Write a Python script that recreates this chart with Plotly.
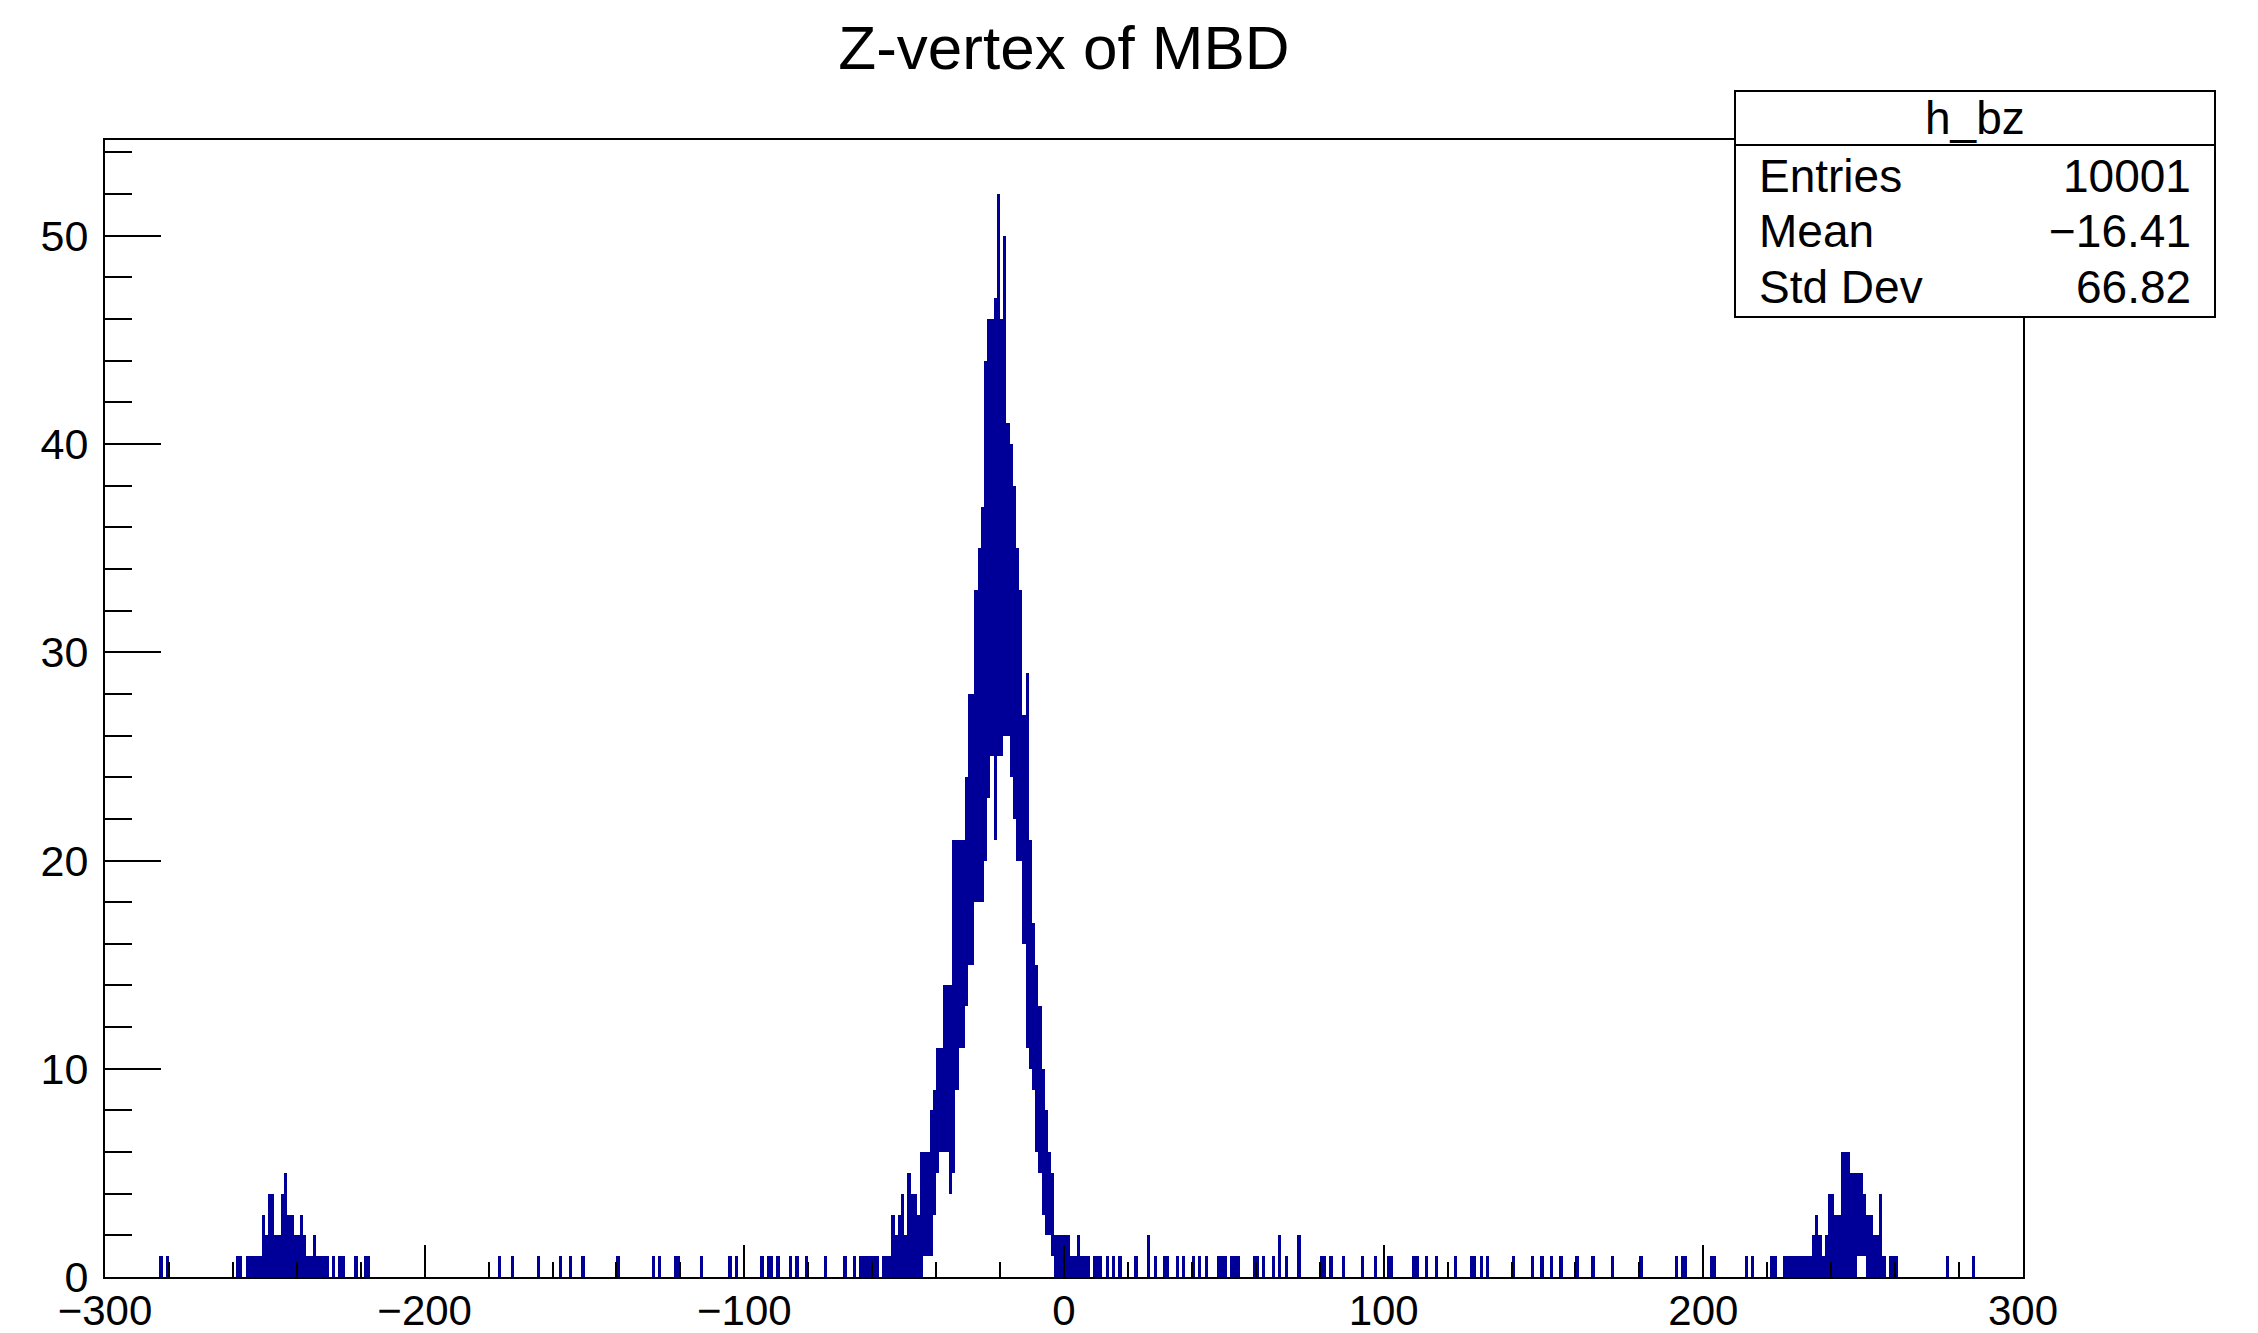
import plotly.graph_objects as go

# counts; bins are 1 unit wide, bin k covers [k, k+1)
# dense parts are stored as (min, max) per bin, like ROOT paints them when bins are finer than pixels
CORE_START = -67
core_hi = [0, 1, 0, 1, 1, 1, 1, 1, 1, 0, 1, 1, 1, 3, 2, 3, 4, 2, 5, 4,
           4, 3, 6, 6, 6, 8, 9, 11, 11, 14, 14, 14, 21, 21, 21, 21, 24, 28, 28, 33,
           35, 37, 44, 46, 46, 47, 52, 46, 50, 41, 40, 38, 35, 33, 27, 29, 21, 17, 15, 13,
           10, 8, 6, 5, 2, 2, 2, 2, 2, 1, 1, 2, 1, 1, 1, 0, 1, 1, 1]
core_lo = [0, 0, 0, 0, 0, 0, 0, 0, 0, 0, 0, 0, 0, 0, 0, 0, 0, 0, 0, 0,
           0, 0, 0, 1, 1, 1, 3, 5, 6, 6, 6, 4, 5, 9, 11, 11, 13, 15, 15, 18,
           18, 18, 20, 23, 25, 21, 25, 25, 26, 26, 24, 22, 20, 20, 16, 11, 10, 9, 6, 5,
           3, 2, 2, 1, 0, 0, 0, 0, 0, 0, 0, 0, 0, 0, 0, 0, 0, 0, 0]

LEFT_START = -259
left_hi = [1, 1, 0, 1, 1, 1, 1, 1, 3, 2, 4, 4, 2, 2, 4, 5, 3, 3, 2, 2,
           3, 2, 1, 1, 2, 1, 1, 1, 1, 0, 1, 0, 1, 1, 0, 0, 0, 1, 0, 0,
           1, 1]

RIGHT_START = 212
right_hi = [0, 1, 0, 1, 0, 0, 0, 0, 0, 1, 1, 0, 0, 1, 1, 1, 1, 1, 1, 1,
            1, 1, 2, 3, 2, 1, 2, 4, 4, 3, 3, 6, 6, 6, 5, 5, 5, 5, 4, 3,
            3, 2, 2, 4, 1, 0, 1, 1, 1]
right_lo = [0, 0, 0, 0, 0, 0, 0, 0, 0, 0, 0, 0, 0, 0, 0, 0, 0, 0, 0, 0,
            0, 0, 0, 0, 0, 0, 0, 0, 0, 0, 0, 0, 0, 0, 0, 0, 1, 1, 1, 0,
            0, 0, 0, 0, 0, 0, 0, 0, 0]

# isolated entries: bin (left edge) and count
single_z = [-283, -281, -177, -173, -165, -158, -155, -151, -140, -129, -127, -122, -121,
            -114, -105, -103, -95, -93, -92, -90, -86, -84, -81, -75, -69,
            13, 15, 17, 22, 26, 28, 31, 32, 35, 37, 40, 42, 44, 48, 49, 50, 52, 53, 54,
            59, 60, 62, 65, 67, 69, 73, 80, 81, 83, 87, 93, 97, 101, 102, 109, 110, 113,
            116, 122, 127, 128, 130, 132, 140, 146, 149, 152, 155, 160, 165, 171, 180,
            191, 193, 194, 202, 203, 276, 284]
single_n = [1] * 29 + [2] + [1] * 18 + [2, 1, 2] + [1] * 33

stats_rows = [("Entries", "10001"), ("Mean", "\u221216.41"), ("Std Dev", "66.82")]

BLUE = "#000099"


def collect():
    xs, bases, heights = [], [], []

    def add(start, hi, lo):
        for i, h in enumerate(hi):
            low = lo[i] if lo else 0
            if h > 0:
                xs.append(start + i + 0.5)
                bases.append(low)
                heights.append(h - low)

    add(CORE_START, core_hi, core_lo)
    add(LEFT_START, left_hi, None)
    add(RIGHT_START, right_hi, right_lo)
    for z, n in zip(single_z, single_n):
        xs.append(z + 0.5)
        bases.append(0)
        heights.append(n)
    return xs, bases, heights


def createGraph():
    xs, bases, heights = collect()
    fig = go.Figure(go.Bar(x=xs, y=heights, base=bases, width=1.0,
                           marker=dict(color=BLUE, line=dict(width=0)),
                           hoverinfo="skip", showlegend=False))

    # the page body has an 8px margin, so everything is laid out 8px up/left
    OFF = 8
    W, H = 2258, 1333
    L, T = 105 - OFF, 140 - OFF
    R = W - (2023 - OFF)
    B = H - (1277 - OFF)
    pw, ph = W - L - R, H - T - B

    def px(x):
        return (x - OFF - L) / pw

    def py(y):
        return (H - B - (y - OFF)) / ph

    font = "Liberation Sans, Arial, Helvetica, sans-serif"
    fig.update_layout(
        width=W, height=H, margin=dict(l=L, r=R, t=T, b=B, autoexpand=False),
        plot_bgcolor="white", paper_bgcolor="white", bargap=0,
        showlegend=False, hovermode=False,
        font=dict(family=font, color="black", size=42),
        title=dict(text="Z-vertex of MBD", x=(1064 - OFF) / W, xanchor="center",
                   y=1 - (47 - OFF) / H, yanchor="middle", font=dict(size=62, color="black")),
    )
    fig.update_xaxes(range=[-300, 300], tickmode="linear", tick0=-300, dtick=100,
                     ticks="inside", ticklen=32, tickwidth=2, tickcolor="black",
                     minor=dict(tick0=-300, dtick=20, ticks="inside", ticklen=15,
                                tickwidth=2, tickcolor="black"),
                     showline=True, mirror=True, linecolor="black", linewidth=2,
                     showgrid=False, zeroline=False, tickfont=dict(size=42),
                     ticklabelstandoff=-4, automargin=False)
    fig.update_yaxes(range=[0, 54.6], tickmode="linear", tick0=0, dtick=10,
                     ticks="inside", ticklen=56, tickwidth=2, tickcolor="black",
                     minor=dict(tick0=0, dtick=2, ticks="inside", ticklen=27,
                                tickwidth=2, tickcolor="black"),
                     showline=True, mirror=True, linecolor="black", linewidth=2,
                     showgrid=False, zeroline=False, tickfont=dict(size=43),
                     ticklabelstandoff=6, automargin=False)

    # stats box (screen pixel positions)
    bx0, bx1, by0, by1, bdiv = 1735, 2215, 91, 317, 145
    fig.add_shape(type="rect", xref="paper", yref="paper",
                  x0=px(bx0), x1=px(bx1), y0=py(by1), y1=py(by0),
                  fillcolor="white", line=dict(color="black", width=2), layer="above")
    fig.add_shape(type="line", xref="paper", yref="paper",
                  x0=px(bx0), x1=px(bx1), y0=py(bdiv), y1=py(bdiv),
                  line=dict(color="black", width=2), layer="above")
    fig.add_annotation(xref="paper", yref="paper", x=px((bx0 + bx1) / 2), y=py(118),
                       text="h_bz", showarrow=False, xanchor="center", yanchor="middle",
                       font=dict(size=46))
    for i, (name, val) in enumerate(stats_rows):
        yy = py(176 + i * 55.5)
        fig.add_annotation(xref="paper", yref="paper", x=px(1757), y=yy, text=name,
                           showarrow=False, xanchor="left", yanchor="middle",
                           font=dict(size=46))
        fig.add_annotation(xref="paper", yref="paper", x=px(2193), y=yy, text=val,
                           showarrow=False, xanchor="right", yanchor="middle",
                           font=dict(size=46))
    return fig


def main():
    fig = createGraph()
    fig.write_html("out.html")


if __name__ == '__main__':
    main()
